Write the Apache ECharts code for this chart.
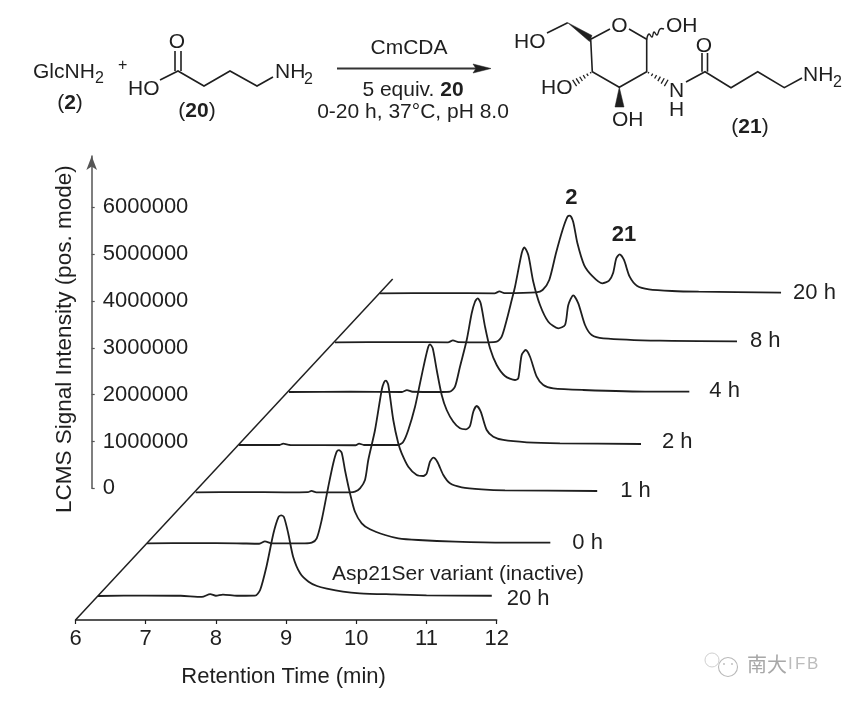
<!DOCTYPE html>
<html><head><meta charset="utf-8">
<style>html,body{margin:0;padding:0;background:#fff}#c{width:847px;height:702px}</style>
<script src="https://cdn.jsdelivr.net/npm/echarts@6/dist/echarts.min.js"></script>
</head><body><div id="c"></div>
<script>
// Retention time (min), intensity (million counts)
const inactive20h=[[6.32,0],[7.0,.01],[7.5,.005],[7.8,-.02],[7.92,.04],[8.0,.005],[8.1,.03],[8.3,.005],[8.557,.006],[8.63,.128],[8.72,.625],[8.82,1.34],[8.89,1.68],[8.93,1.72],[8.97,1.68],[9.03,1.34],[9.10,.84],[9.20,.485],[9.32,.305],[9.44,.213],[9.58,.156],[9.81,.092],[10.05,.058],[10.5,.035],[11.0,.015],[11.93,.005]];
const trace0h=[[6.32,0],[7.0,.005],[7.6,0],[7.92,-.01],[8.0,.04],[8.1,0],[8.57,0],[8.667,.013],[8.738,.107],[8.809,.497],[8.903,1.208],[8.974,1.708],[9.023,1.955],[9.055,1.99],[9.094,1.934],[9.141,1.56],[9.212,1.067],[9.283,.674],[9.379,.427],[9.497,.299],[9.711,.177],[9.90,.107],[10.185,.07],[10.708,.034],[11.42,.013],[12.066,.013]];
const trace1h=[[6.33,0],[7.0,.005],[7.6,0],[7.93,.005],[7.98,.03],[8.05,0],[8.528,0],[8.60,.013],[8.671,.085],[8.742,.263],[8.789,.689],[8.885,1.33],[8.98,2.184],[9.013,2.348],[9.041,2.382],[9.074,2.29],[9.145,1.543],[9.216,1.046],[9.265,.832],[9.359,.546],[9.479,.369],[9.573,.348],[9.621,.406],[9.668,.653],[9.715,.739],[9.772,.653],[9.858,.369],[9.953,.192],[10.12,.107],[10.405,.064],[10.737,.043],[12.05,.028]];
const trace2h=[[6.32,0],[6.9,0],[6.95,.03],[7.05,0],[7.98,-.005],[8.03,.03],[8.1,0],[8.59,0],[8.661,.07],[8.732,.32],[8.828,.817],[8.899,1.317],[8.97,1.814],[9.017,2.098],[9.041,2.149],[9.08,2.064],[9.137,1.60],[9.208,1.067],[9.279,.747],[9.373,.497],[9.469,.356],[9.554,.335],[9.611,.406],[9.658,.711],[9.707,.832],[9.764,.711],[9.849,.32],[9.943,.177],[10.085,.107],[10.419,.058],[10.893,.036],[12.047,.021]];
const trace4h=[[6.32,0],[7.2,.005],[7.93,0],[8.0,.04],[8.08,.005],[8.496,0],[8.614,.006],[8.685,.113],[8.756,.54],[8.852,1.11],[8.923,1.68],[8.97,1.927],[9.009,2.0],[9.051,1.893],[9.113,1.394],[9.184,.933],[9.279,.576],[9.397,.342],[9.54,.256],[9.587,.292],[9.635,.79],[9.692,.896],[9.754,.753],[9.849,.327],[9.943,.149],[10.085,.079],[10.513,.043],[11.463,.006],[12.023,.006]];
const trace8h=[[6.32,0],[7.2,.005],[7.93,0],[8.0,.04],[8.08,.005],[8.504,0],[8.624,.013],[8.695,.12],[8.766,.476],[8.838,.903],[8.885,1.187],[8.98,1.90],[9.017,2.028],[9.074,1.863],[9.145,1.293],[9.241,.796],[9.359,.44],[9.501,.299],[9.597,.369],[9.644,.796],[9.715,1.003],[9.786,.832],[9.882,.369],[9.977,.156],[10.142,.085],[10.95,.034],[12.047,.021]];
const trace20h=[[6.32,0],[7.2,.005],[7.96,0],[8.03,.04],[8.1,.005],[8.553,.021],[8.647,.07],[8.742,.284],[8.838,.854],[8.932,1.351],[9.003,1.635],[9.037,1.656],[9.084,1.528],[9.145,1.067],[9.241,.604],[9.359,.369],[9.501,.213],[9.597,.269],[9.654,.427],[9.701,.747],[9.749,.832],[9.811,.711],[9.892,.354],[10.0,.156],[10.167,.085],[10.499,.049],[10.879,.034],[12.057,.013]];

const traces=[inactive20h,trace0h,trace1h,trace2h,trace4h,trace8h,trace20h];
const traceNames=['20 h','0 h','1 h','2 h','4 h','8 h','20 h'];
const xTicks=[6,7,8,9,10,11,12];
const yTicks=[0,1000000,2000000,3000000,4000000,5000000,6000000];

// Layout of the waterfall (px)
const shiftX=[0,49,97,141,191,237,282];
const baseY=[596,543.3,492.3,445,392,342.3,293.3];
const labelGap=[15,22,23,21,20,13,12];
const labelDy=[3,0,0,-2,-1,0,0];
const PX_MIN=70.2, PX_COUNT=46.85/1e6, X0=75.5;
const FF='"Liberation Sans",Arial,sans-serif', INK='#1f1f1f';

const grid=[
 {left:X0,width:PX_MIN*6,top:600,height:20},
 {left:91.7,width:10,top:156,height:332.3}
];
const xAxis=[
 {gridIndex:0,type:'value',min:6,max:12,interval:1,splitLine:{show:false},
  axisLine:{lineStyle:{color:INK,width:1.5}},axisTick:{length:4,lineStyle:{color:INK,width:1.2}},
  axisLabel:{color:INK,fontFamily:FF,fontSize:22,margin:8,showMinLabel:true,showMaxLabel:true,
    customValues:xTicks},
  name:'Retention Time (min)',nameLocation:'middle',nameGap:46,
  nameTextStyle:{color:INK,fontFamily:FF,fontSize:22,padding:[0,5,0,0]}},
 {gridIndex:1,type:'value',show:false,min:0,max:1}
];
const yAxis=[
 {gridIndex:0,type:'value',show:false,min:0,max:1},
 {gridIndex:1,type:'value',min:0,max:332.3/PX_COUNT,interval:1000000,splitLine:{show:false},
  axisLine:{onZero:false,symbol:['none','arrow'],symbolSize:[8,14],lineStyle:{color:'#555',width:1.5}},
  axisTick:{inside:true,length:3,customValues:yTicks,lineStyle:{color:'#555',width:1.2}},
  axisLabel:{inside:true,margin:11,color:INK,fontFamily:FF,fontSize:22,padding:[4,0,0,0],customValues:yTicks,formatter:v=>String(v)},
  name:'LCMS Signal Intensity (pos. mode)',nameLocation:'middle',nameRotate:90,nameGap:15,
  nameTextStyle:{color:INK,fontFamily:FF,fontSize:22.5,padding:[0,34,0,0]}}
];
const series=[];
traces.forEach((tr,k)=>{
  const gi=grid.length;
  grid.push({left:X0+shiftX[k],width:PX_MIN*7,top:baseY[k]-3e6*PX_COUNT,height:3.5e6*PX_COUNT});
  xAxis.push({gridIndex:gi,type:'value',show:false,min:6,max:13});
  yAxis.push({gridIndex:gi,type:'value',show:false,min:-500000,max:3000000});
  const s={type:'line',name:traceNames[k],xAxisIndex:gi,yAxisIndex:gi,
    data:tr.map(p=>[p[0],p[1]*1e6]),showSymbol:false,symbol:'none',smooth:0.25,
    lineStyle:{color:INK,width:1.8},silent:true,
    endLabel:{show:true,formatter:traceNames[k],distance:labelGap[k],offset:[0,labelDy[k]],color:INK,fontFamily:FF,fontSize:22}};
  if(k===6){
    s.markPoint={symbol:'circle',symbolSize:0,silent:true,
      label:{show:true,position:'top',distance:7,color:INK,fontFamily:FF,fontSize:22,fontWeight:'bold'},
      data:[{coord:[9.06,1.656e6],value:'2',label:{formatter:'2'}},
            {coord:[9.81,.832e6],value:'21',label:{formatter:'21',distance:8}}]};
  }
  series.push(s);
});

// Scheme drawing
const els=[];
function L(a,b,c,d,w,col){els.push({type:'line',shape:{x1:a,y1:b,x2:c,y2:d},style:{stroke:col||INK,lineWidth:w||1.6}});}
function P(pts,w){els.push({type:'polyline',shape:{points:pts},style:{stroke:INK,lineWidth:w||1.6,fill:null}});}
function W(pts){els.push({type:'polygon',shape:{points:pts},style:{fill:INK,stroke:INK,lineWidth:.5}});}
function T(t,x,y,o){o=o||{};els.push({type:'text',x:x,y:y,style:{text:t,fill:o.fill||INK,font:(o.bold?'bold ':'')+(o.size||21)+'px '+(o.ff||FF),
  textAlign:o.align||'left',textVerticalAlign:'middle',rich:{b:{fontWeight:'bold',fontSize:o.size||21,fontFamily:FF,fill:INK},n:{fontSize:o.size||21,fontFamily:FF,fill:INK}}}});}
function H(a,b,c,d,n,wmax){for(let i=0;i<n;i++){const f=(i+.5)/n,x=a+(c-a)*f,y=b+(d-b)*f,len=Math.hypot(c-a,d-b),nx=-(d-b)/len,ny=(c-a)/len,h=wmax*f/2+.5;L(x-nx*h,y-ny*h,x+nx*h,y+ny*h,1.3);}}

L(X0,620,392.7,279,1.5);

T('GlcNH',33,72);T('2',95,79,{size:16});
T('{n|(}{b|2}{n|)}',70,103,{align:'center'});
T('+',118,66,{size:16});
T('HO',128,89);
P([[160,80],[178,71],[204,86],[230,71],[257,86],[273,77]]);
L(175,71,175,51);L(181,71,181,51);
T('O',177,42,{align:'center'});
T('NH',275,72);T('2',304,80,{size:16});
T('{n|(}{b|20}{n|)}',197,111,{align:'center'});
L(337,68.5,478,68.5,1.8,'#333');
W([[491,68.5],[473,64],[476,68.5],[473,73]]);
T('CmCDA',409,48,{align:'center'});
T('{n|5 equiv. }{b|20}',413,90,{align:'center'});
T('0-20 h, 37°C, pH 8.0',413,112,{align:'center'});

P([[610,29],[590.7,39.3],[592.3,71.7],[619.3,87.3],[646.7,71.7],[646.7,39.3],[629,29]]);
T('O',619.3,26,{align:'center'});
W([[567.7,22.7],[592,35.5],[589.5,41.5]]);
L(567.7,22.7,547,33);
T('HO',514,42);
els.push({type:'polyline',shape:{points:[[646.7,39.3],[649,34],[652,37],[654,32],[657,35],[660,29],[664,29]],smooth:.5},style:{stroke:INK,lineWidth:1.4,fill:null}});
T('OH',666,26);
H(646.7,71.7,668,84,6,7);
T('N',676.7,91,{align:'center'});T('H',676.7,110,{align:'center'});
P([[686,82],[705,71.7],[731,87.7],[757.7,71.7],[784.3,87.7],[802,78]]);
L(702,71.7,702,53);L(707.5,71.7,707.5,53);
T('O',704,46,{align:'center'});
T('NH',803,75);T('2',833,83,{size:16});
W([[619.3,87.3],[615,107],[624,107]]);
T('OH',612,120);
H(592.3,71.7,573,84,6,7);
T('HO',541,88);
T('{n|(}{b|21}{n|)}',750,127,{align:'center'});
T('Asp21Ser variant (inactive)',332,574);

// Watermark
const WM='#b9b9b9';
els.push({type:'circle',shape:{cx:712,cy:660,r:7},style:{stroke:'#d0d0d0',lineWidth:1,fill:null}});
els.push({type:'circle',shape:{cx:728,cy:667,r:9.5},style:{stroke:WM,lineWidth:1.1,fill:'#fff'}});
els.push({type:'circle',shape:{cx:724,cy:664,r:.9},style:{fill:WM}});
els.push({type:'circle',shape:{cx:732,cy:664,r:.9},style:{fill:WM}});
T('南大',747,664,{size:20,fill:'#a8a8a8',ff:'"Noto Sans CJK SC"'});
T('I',788,664,{size:17,fill:'#bcbcbc'});T('F',795,664,{size:17,fill:'#bcbcbc'});T('B',807,664,{size:17,fill:'#bcbcbc'});

const chart=echarts.init(document.getElementById('c'),null,{renderer:'canvas'});
chart.setOption({animation:false,backgroundColor:'#fff',grid,xAxis,yAxis,series,tooltip:{show:false},graphic:{elements:els}});
</script></body></html>
